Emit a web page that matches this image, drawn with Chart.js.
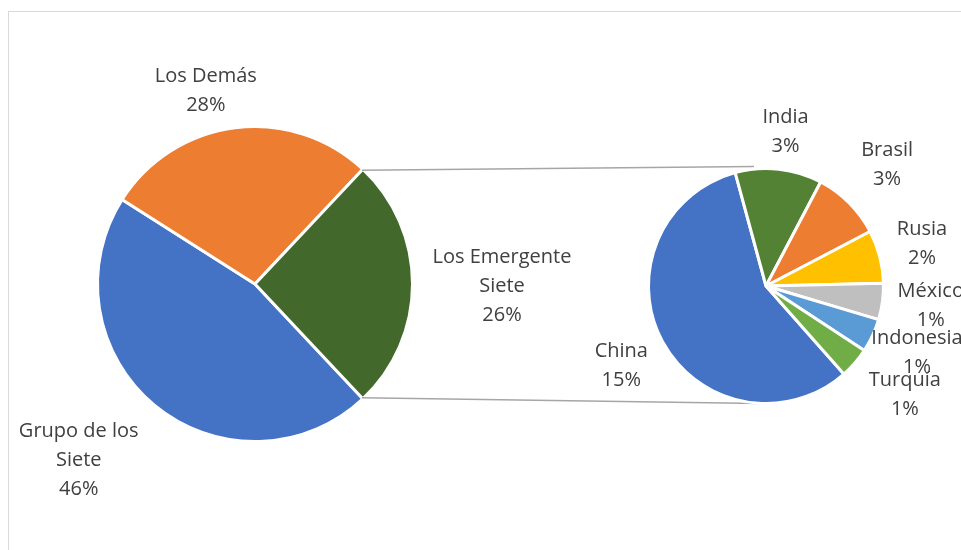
<!DOCTYPE html>
<html>
<head>
<meta charset="utf-8">
<title>Grupos de países</title>
<script src="https://cdn.jsdelivr.net/npm/chart.js@4/dist/chart.umd.min.js"></script>
<style>
  html, body { margin: 0; padding: 0; background: #fff; }
  #wrap { position: relative; width: 961px; height: 550px; overflow: hidden; }
  #frame { position: absolute; left: 8px; top: 11px; width: 1000px; height: 600px; border: 1px solid #d9d9d9; }
  #wrap canvas { position: absolute; left: 0; top: 0; }
</style>
</head>
<body>
<div id="wrap">
  <div id="frame"></div>
  <canvas id="main-pie" width="961" height="550"></canvas>
  <canvas id="sub-pie" width="961" height="550"></canvas>
</div>
<script>
// main pie: the last slice is the sum of the breakdown pie
const mainLabels = [['Grupo de los', 'Siete'], ['Los Demás'], ['Los Emergente', 'Siete']];
const mainValues = [46, 28];

// breakdown of "Los Emergente Siete"
const subLabels = ['China', 'India', 'Brasil', 'Rusia', 'México', 'Indonesia', 'Turquía'];
const subValues = [14.9, 3.1, 2.5, 1.9, 1.3, 1.2, 1.1];

const mainColors = ['#4472C4', '#ED7D31', '#43682B'];
const subColors = ['#4472C4', '#548235', '#ED7D31', '#FFC000', '#BFBFBF', '#5B9BD5', '#70AD47'];

const otherValue = subValues.reduce((a, b) => a + b, 0);
const grandTotal = mainValues.reduce((a, b) => a + b, 0) + otherValue;

const FONT = '20px "Open Sans", sans-serif';
const LINE_H = 29;

// name + percentage, placed just outside each slice (nudge = small per-label shift)
const sliceLabels = {
  id: 'sliceLabels',
  afterDatasetsDraw(chart, args, opts) {
    const ctx = chart.ctx;
    const ds = chart.data.datasets[0];
    const nudge = opts.nudge || [];
    ctx.save();
    ctx.font = FONT;
    ctx.fillStyle = '#404040';
    ctx.textAlign = 'center';
    ctx.textBaseline = 'middle';
    chart.getDatasetMeta(0).data.forEach((arc, i) => {
      const name = chart.data.labels[i];
      const lines = (Array.isArray(name) ? name : [name])
        .concat(Math.round(ds.data[i] / grandTotal * 100) + '%');
      const w = Math.max(...lines.map(l => ctx.measureText(l).width));
      const h = lines.length * LINE_H;
      const mid = (arc.startAngle + arc.endAngle) / 2;
      const ux = Math.cos(mid), uy = Math.sin(mid);
      const d = arc.outerRadius + opts.pad + Math.abs(ux) * w / 2 + Math.abs(uy) * h / 2;
      const [nx, ny] = nudge[i] || [0, 0];
      const cx = arc.x + ux * d + nx, cy = arc.y + uy * d + ny;
      lines.forEach((l, k) => ctx.fillText(l, cx, cy - h / 2 + LINE_H * (k + 0.5)));
    });
    ctx.restore();
  }
};

const mainChart = new Chart(document.getElementById('main-pie'), {
  type: 'pie',
  data: {
    labels: mainLabels,
    datasets: [{
      data: mainValues.concat(otherValue),
      backgroundColor: mainColors,
      borderColor: '#fff',
      borderWidth: 3
    }]
  },
  options: {
    responsive: false,
    animation: false,
    events: [],
    // keep the "other" slice centred on the right side
    rotation: 90 + (otherValue / grandTotal) * 180,
    layout: { padding: { left: 96, right: 547, top: 125, bottom: 107 } },
    plugins: {
      legend: { display: false },
      tooltip: { enabled: false },
      sliceLabels: { pad: 16, nudge: [[-20, -13], [-23, 14], [4, 2]] }
    }
  },
  plugins: [sliceLabels]
});

// grey lines from the "other" slice to the breakdown pie
const connector = {
  id: 'connector',
  beforeDatasetsDraw(chart) {
    const other = mainChart.getDatasetMeta(0).data[mainValues.length];
    const sub = chart.getDatasetMeta(0).data[0];
    const r = other.outerRadius - 1.5, r2 = sub.outerRadius;
    const ctx = chart.ctx;
    ctx.save();
    ctx.strokeStyle = '#a6a6a6';
    ctx.lineWidth = 1.5;
    ctx.beginPath();
    ctx.moveTo(other.x + r * Math.cos(other.startAngle), other.y + r * Math.sin(other.startAngle));
    ctx.lineTo(sub.x - 12, sub.y - r2 - 2);
    ctx.moveTo(other.x + r * Math.cos(other.endAngle), other.y + r * Math.sin(other.endAngle));
    ctx.lineTo(sub.x - 6, sub.y + r2);
    ctx.stroke();
    ctx.restore();
  }
};

const subChart = new Chart(document.getElementById('sub-pie'), {
  type: 'pie',
  data: {
    labels: subLabels,
    datasets: [{
      data: subValues,
      backgroundColor: subColors,
      borderColor: '#fff',
      borderWidth: 3
    }]
  },
  options: {
    responsive: false,
    animation: false,
    events: [],
    rotation: 138.5,
    layout: { padding: { left: 647, right: 76, top: 167, bottom: 145 } },
    plugins: {
      legend: { display: false },
      tooltip: { enabled: false },
      sliceLabels: {
        pad: 12,
        nudge: [[2, 1], [2, 6], [2, -2], [0, -2], [0, -2], [-15, -10], [6, -6]]
      }
    }
  },
  plugins: [connector, sliceLabels]
});
</script>
</body>
</html>
